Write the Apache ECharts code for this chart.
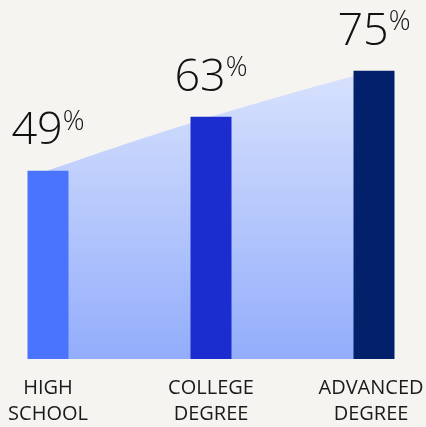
<!DOCTYPE html>
<html>
<head>
<meta charset="utf-8">
<script src="https://cdn.jsdelivr.net/npm/echarts@6/dist/echarts.min.js"></script>
<style>
  html, body { margin: 0; padding: 0; background: #f5f4f1; }
  #container { width: 426px; height: 427px; }
</style>
</head>
<body>
<div id="container"></div>
<script>
var categories = ['HIGH\nSCHOOL', 'COLLEGE\nDEGREE', 'ADVANCED\nDEGREE'];
var values = [49, 63, 75];
var barColors = ['#4a74fd', '#1c2dcf', '#03206a'];

var dom = document.getElementById("container");
var myChart = echarts.init(dom);
var option = {
    backgroundColor: '#f5f4f1',
    animation: false,
    grid: {
        left: 48,
        right: 52,
        top: 0,
        bottom: 68,
        outerBoundsMode: 'none'
    },
    xAxis: {
        type: 'category',
        // last label is nudged left so it stays inside the frame
        data: categories.map(function (c, i) {
            return i === categories.length - 1
                ? { value: c, textStyle: { padding: [0, 6, 0, 0] } }
                : c;
        }),
        boundaryGap: false,
        axisLine: { show: false },
        axisTick: { show: false },
        axisLabel: {
            color: '#1a1a1a',
            fontFamily: 'Open Sans',
            fontSize: 20,
            lineHeight: 26,
            margin: 16,
            interval: 0
        }
    },
    yAxis: {
        type: 'value',
        min: 0,
        max: 93.4,
        show: false,
        splitLine: { show: false }
    },
    series: [
        {
            type: 'line',
            data: values,
            smooth: true,
            symbol: 'none',
            z: 1,
            lineStyle: { width: 0 },
            areaStyle: {
                opacity: 1,
                color: new echarts.graphic.LinearGradient(0, 0, 0, 1, [
                    { offset: 0, color: '#d8e2fd' },
                    { offset: 1, color: '#93adfb' }
                ])
            }
        },
        {
            type: 'bar',
            data: values.map(function (v, i) {
                return { value: v, itemStyle: { color: barColors[i] } };
            }),
            barWidth: 41,
            z: 2,
            label: {
                show: true,
                position: 'top',
                distance: 16,
                formatter: function (p) {
                    return '{a|' + p.value + '}{b|%}';
                },
                rich: {
                    a: {
                        fontFamily: 'Open Sans',
                        fontWeight: 300,
                        fontSize: 45,
                        color: '#111',
                        lineHeight: 46
                    },
                    b: {
                        fontFamily: 'Open Sans',
                        fontWeight: 300,
                        fontSize: 27,
                        color: '#111',
                        lineHeight: 46,
                        verticalAlign: 'top'
                    }
                }
            }
        }
    ]
};
myChart.setOption(option, true);
</script>
</body>
</html>
